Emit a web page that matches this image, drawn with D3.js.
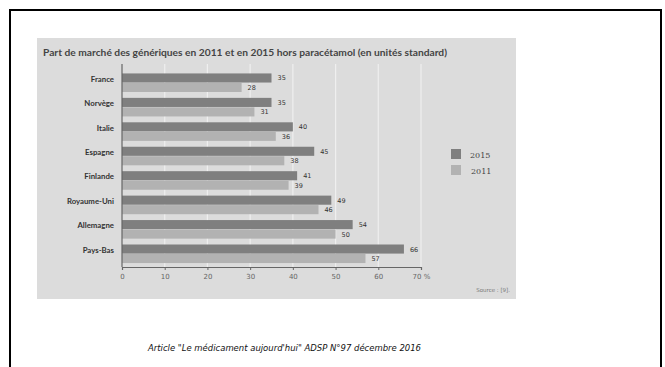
<!DOCTYPE html>
<html><head><meta charset="utf-8">
<script src="https://cdn.jsdelivr.net/npm/d3@7"></script>
<style>body{margin:0;background:#fff}svg{display:block}</style>
</head><body>
<script>
const countries = ["France","Norvège","Italie","Espagne","Finlande","Royaume-Uni","Allemagne","Pays-Bas"];
const years = ["2015","2011"];
const values2015 = [35,35,40,45,41,49,54,66];
const values2011 = [28,31,36,38,39,46,50,57];
const xTicks = [0,10,20,30,40,50,60,70];
const colors = {"2015":"#7f7f7f","2011":"#b2b2b2"};

const W=665,H=367;
const svg=d3.select("body").append("svg").attr("width",W).attr("height",H);

// slide frame
svg.append("rect").attr("x",10).attr("y",10).attr("width",651).attr("height",400)
  .attr("fill","none").attr("stroke","#000").attr("stroke-width",2);

// grey panel
svg.append("rect").attr("x",37).attr("y",38).attr("width",479).attr("height",261).attr("fill","#dcdcdc");

svg.append("text").attr("x",43).attr("y",56).attr("font-family","Lato, sans-serif").attr("font-weight","bold")
  .attr("font-size",9.5).attr("fill","#444").attr("textLength",404).attr("lengthAdjust","spacingAndGlyphs")
  .text("Part de marché des génériques en 2011 et en 2015 hors paracétamol (en unités standard)");

const x=d3.scaleLinear().domain([0,70]).range([122,421]);
const y=d3.scaleBand().domain(countries).range([70.5,266]).paddingInner(0.24).paddingOuter(0.12);
const ys=d3.scaleBand().domain(years).range([0,y.bandwidth()]).paddingInner(0.04);

// gridlines
svg.append("g").selectAll("line").data(xTicks.slice(1)).join("line")
  .attr("x1",d=>x(d)).attr("x2",d=>x(d)).attr("y1",64).attr("y2",267)
  .attr("stroke","#efefef").attr("stroke-width",1.2);

const rows=countries.map((c,i)=>({c,v:{"2015":values2015[i],"2011":values2011[i]}}));
const g=svg.append("g");
rows.forEach(r=>{
  years.forEach(yr=>{
    g.append("rect").attr("x",x(0)).attr("y",y(r.c)+ys(yr)).attr("width",x(r.v[yr])-x(0))
      .attr("height",ys.bandwidth()).attr("fill",colors[yr]);
    g.append("text").attr("x",x(r.v[yr])+6).attr("y",y(r.c)+ys(yr)+ys.bandwidth()/2+2.5)
      .attr("font-family","DejaVu Sans, sans-serif").attr("font-size",6.5).attr("fill","#333")
      .text(r.v[yr]);
  });
});

// category labels
svg.append("g").selectAll("text").data(countries).join("text")
  .attr("x",114).attr("y",d=>y(d)+y.bandwidth()/2-1).attr("text-anchor","end")
  .attr("font-family","Lato, sans-serif").attr("font-weight","bold").attr("font-size",7.8).attr("fill","#333")
  .text(d=>d);

// axes
const ax=svg.append("g").attr("transform","translate(0,267)")
  .call(d3.axisBottom(x).tickValues(xTicks).tickSize(3).tickFormat(d=>d===70?"70 %":d));
ax.select(".domain").attr("stroke","#666").attr("stroke-width",1.2);
ax.selectAll(".tick line").attr("stroke","#666");
ax.selectAll(".tick text").attr("font-family","DejaVu Sans, sans-serif").attr("font-size",7).attr("fill","#666").attr("dy","0.9em");
svg.append("line").attr("x1",x(0)).attr("x2",x(0)).attr("y1",64).attr("y2",267).attr("stroke","#666").attr("stroke-width",1.2);

// legend
const lg=svg.append("g");
years.forEach((yr,i)=>{
  lg.append("rect").attr("x",451).attr("y",149+i*16).attr("width",10).attr("height",10).attr("fill",colors[yr]);
  lg.append("text").attr("x",470+i).attr("y",157.5+i*16).attr("font-family","DejaVu Serif, serif").attr("font-size",8)
    .attr("fill","#444").text(yr);
});

svg.append("text").attr("x",510).attr("y",292).attr("text-anchor","end").attr("font-family","DejaVu Sans, sans-serif")
  .attr("font-size",5.5).attr("fill","#777").text("Source : [9].");

svg.append("text").attr("x",148).attr("y",351).attr("font-family","DejaVu Sans, sans-serif").attr("font-style","italic")
  .attr("font-size",8).attr("fill","#111").attr("textLength",273).attr("lengthAdjust","spacingAndGlyphs")
  .text("Article \"Le médicament aujourd'hui\" ADSP N°97 décembre 2016");
</script>
</body></html>
